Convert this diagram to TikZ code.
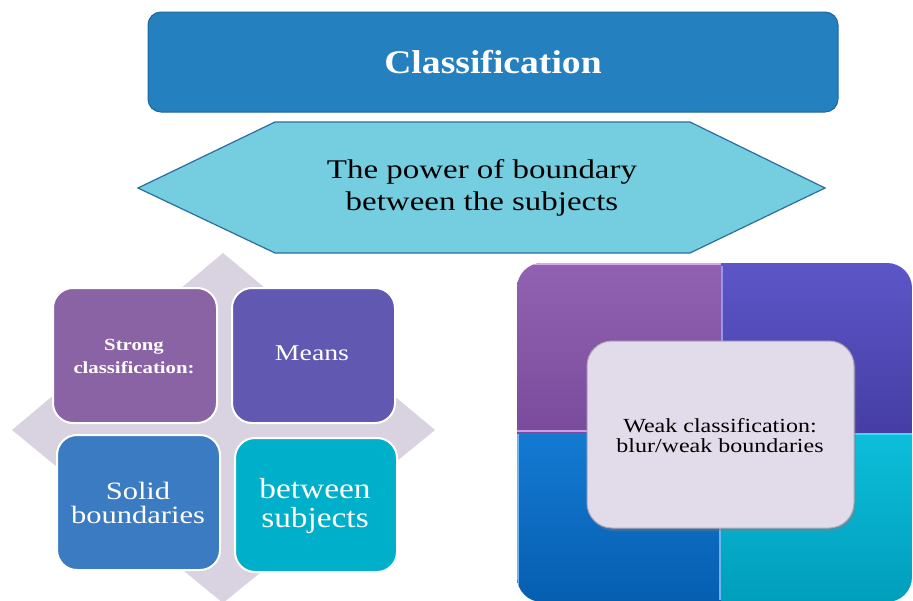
\documentclass[tikz,border=0pt]{standalone}
\usepackage{fontspec}
\setmainfont{Liberation Serif}
\usepackage{graphicx}
\usetikzlibrary{shadows}
\definecolor{topblue}{HTML}{2580C0}
\definecolor{topedge}{HTML}{1D679C}
\definecolor{hexfill}{HTML}{75CDE0}
\definecolor{hexedge}{HTML}{2A6E9E}
\definecolor{diamondc}{HTML}{D9D2E1}
\definecolor{boxTL}{HTML}{8A63A5}
\definecolor{boxTR}{HTML}{6159B1}
\definecolor{boxBL}{HTML}{3A7BC1}
\definecolor{boxBR}{HTML}{00AFC9}
\definecolor{weakfill}{HTML}{E2DCEA}
\definecolor{weakedge}{HTML}{ADA7B5}
\definecolor{qTLtop}{HTML}{9262B2}
\definecolor{qTLbot}{HTML}{7A4A9C}
\definecolor{qTRtop}{HTML}{5C56C8}
\definecolor{qTRbot}{HTML}{463EA5}
\definecolor{qBLtop}{HTML}{147AD2}
\definecolor{qBLbot}{HTML}{065EB0}
\definecolor{qBRtop}{HTML}{0CBEDA}
\definecolor{qBRbot}{HTML}{009EBC}
\definecolor{hlA}{HTML}{D7AAEB}
\definecolor{hlB}{HTML}{C8A0E6}
\definecolor{hlC}{HTML}{9696F0}
\definecolor{hlD}{HTML}{6EB4F0}
\definecolor{hlE}{HTML}{3CDCF0}
\newcommand{\hs}[2][1.2]{\scalebox{#1}[1]{#2}}
\tikzset{
  quadbox/.style={draw=white, line width=2pt, rounded corners=20pt, inner sep=0pt, text=white},
  lbl/.style={inner sep=0pt, align=center},
}
\begin{document}
\begin{tikzpicture}[x=1pt,y=-1pt]
\useasboundingbox (0,0) rectangle (913,600);
\fill[white] (0,0) rectangle (913,600);

% top title box
\node[draw=topedge, fill=topblue, line width=1pt, rounded corners=13pt,
      minimum width=690pt, minimum height=100pt, inner sep=0pt, text=white,
      font=\fontsize{33}{38}\selectfont\bfseries] (title) at (493,62) {\hs[1.14]{Classification}};

% hexagon
\draw[hexedge, fill=hexfill, line width=1.2pt]
  (138,188) -- (275,122) -- (690,122) -- (825,188) -- (690,253) -- (275,253) -- cycle;
\node[lbl, font=\fontsize{27}{32}\selectfont] (power) at (482,188)
  {\hs[1.22]{The power of boundary}\\\hs[1.22]{between the subjects}};

% left diamond background
\fill[diamondc] (223,253) -- (435,430) -- (223,603) -- (12,430) -- cycle;

% four boxes
\node[quadbox, fill=boxTL, minimum width=164pt, minimum height=135pt] (strong) at (135,355.5) {};
\node[lbl, text=white, font=\fontsize{17}{23}\selectfont\bfseries] (strongt) at (134,356)
  {\hs[1.22]{Strong}\\\hs[1.22]{classification:}};
\node[quadbox, fill=boxTR, minimum width=163pt, minimum height=135pt] (means) at (313.5,355.5) {};
\node[lbl, text=white, font=\fontsize{22.6}{26}\selectfont] (meanst) at (312,353) {\hs[1.23]{Means}};
\node[quadbox, fill=boxBL, minimum width=163pt, minimum height=135pt] (solid) at (138.5,502.5) {};
\node[lbl, text=white, font=\fontsize{25}{24}\selectfont] (solidt) at (138,503)
  {\hs[1.22]{Solid}\\\hs[1.22]{boundaries}};
\node[quadbox, fill=boxBR, minimum width=162pt, minimum height=134pt] (between) at (316,505) {};
\node[lbl, text=white, font=\fontsize{29}{29}\selectfont] (betweent) at (315,506)
  {\hs[1.15]{between}\\\hs[1.15]{subjects}};

% right big square split in four
\begin{scope}
  \clip[rounded corners=25pt] (517,263) rectangle (912,602);
  \shade[top color=qTLtop, bottom color=qTLbot] (517,263) rectangle (721,433);
  \shade[top color=qTRtop, bottom color=qTRbot] (721,263) rectangle (912,433);
  \shade[top color=qBLtop, bottom color=qBLbot] (517,433) rectangle (721,602);
  \shade[top color=qBRtop, bottom color=qBRbot] (721,433) rectangle (912,602);
  \draw[hlA, line width=2pt] (517,264) -- (721,264);
  \draw[hlB, line width=1.5pt] (517,431) -- (719,431);
  \draw[hlC, line width=1.5pt] (722,266) -- (722,432);
  \draw[hlD, line width=1.5pt] (518,434) -- (518,600);
  \draw[hlD, line width=1.5pt] (720,434) -- (720,600);
  \draw[hlE, line width=1.5pt] (721,434) -- (912,434);
\end{scope}

% weak classification centre box
\node[draw=weakedge, fill=weakfill, line width=1pt, rounded corners=25pt,
      minimum width=267pt, minimum height=187pt, inner sep=0pt,
      drop shadow={opacity=0.35, shadow xshift=2pt, shadow yshift=-3pt}] (weak) at (720.5,434.5) {};
\node[lbl, text=black, font=\fontsize{20}{20}\selectfont] (weakt) at (720,436)
  {\hs[1.2]{Weak classification:}\\\hs[1.2]{blur/weak boundaries}};
\end{tikzpicture}
\end{document}
